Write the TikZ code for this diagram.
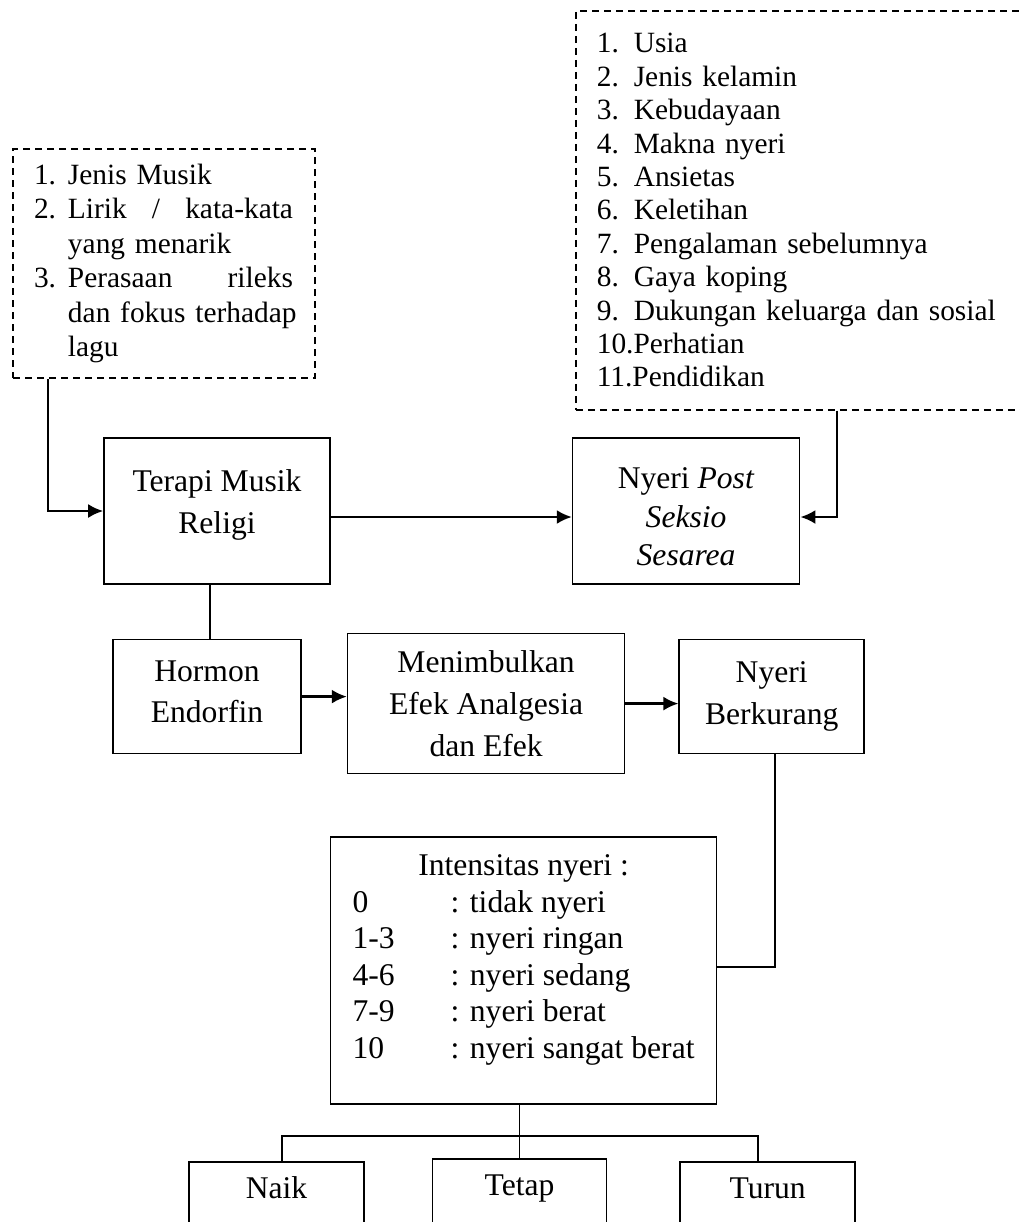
\documentclass[tikz,border=0pt]{standalone}
\usepackage{fontspec}
\setmainfont{Liberation Serif}
\usepackage{tikz}
\usetikzlibrary{arrows.meta, positioning}

\newcommand{\numitem}[2]{\makebox[17pt][l]{#1}\mbox{#2}}
\newcommand{\contitem}[1]{\hspace*{17pt}\mbox{#1}}
\newcommand{\spreadline}[2]{\hbox to 112.5pt{#1\hfill#2}}
\newcommand{\faktoritem}[2]{\makebox[18.5pt][l]{#1}\mbox{#2}}

\begin{document}
\begin{tikzpicture}[x=0.5pt, y=-0.5pt]
        \tikzstyle{box} = [rectangle, draw=black, line width=0.8pt, align=center, inner sep=2pt, font=\fontsize{15.8}{20.8}\selectfont]
        \tikzstyle{listbox} = [rectangle, draw=black, line width=0.8pt, dash pattern=on 3.5pt off 2.5pt, align=left, font=\fontsize{14.7}{17.2}\selectfont]
        \tikzstyle{arrow} = [line width=1.2pt, -{Latex[length=7.5pt,width=7pt]}]
        \tikzstyle{link} = [line width=0.8pt]

        \useasboundingbox (0,0) rectangle (1019,1222);

        % Factor lists
        \node (musik) [listbox, text width=130pt, inner xsep=10.5pt, minimum height=114.5pt] at (164,263.5) {
            \numitem{1.}{Jenis Musik}\\
            \numitem{2.}{\hbox to 112.5pt{Lirik\hfill/\hfill kata-kata}}\\
            \contitem{yang menarik}\\
            \numitem{3.}{\spreadline{Perasaan}{rileks}}\\
            \contitem{dan fokus terhadap}\\
            \contitem{lagu}};
        \node (faktor) [listbox, anchor=north west, text width=209pt, inner xsep=10.5pt, minimum height=199.5pt, font=\fontsize{14.7}{16.7}\selectfont] at (575,10) {
            \faktoritem{1.}{Usia}\\
            \faktoritem{2.}{Jenis kelamin}\\
            \faktoritem{3.}{Kebudayaan}\\
            \faktoritem{4.}{Makna nyeri}\\
            \faktoritem{5.}{Ansietas}\\
            \faktoritem{6.}{Keletihan}\\
            \faktoritem{7.}{Pengalaman sebelumnya}\\
            \faktoritem{8.}{Gaya koping}\\
            \faktoritem{9.}{Dukungan keluarga dan sosial}\\
            10.Perhatian\\
            11.Pendidikan};

        % Therapy and pain
        \node (terapi) [box, minimum width=113pt, minimum height=73pt, text depth=9.5pt] at (217,511) {Terapi Musik\\Religi};
        \node (nyeripost) [box, minimum width=113.5pt, minimum height=73pt, font=\fontsize{15.8}{19.2}\selectfont, right=120.5pt of terapi] {\rule{0pt}{16.5pt}Nyeri \textit{Post}\\\textit{Seksio}\\\textit{Sesarea}};

        % Mechanism
        \node (hormon) [box, minimum width=94pt, minimum height=57pt, text depth=5pt, below=27pt of terapi, xshift=-5pt] {Hormon\\Endorfin};
        \node (menimbulkan) [box, minimum width=138.5pt, minimum height=70pt, right=22.5pt of hormon, yshift=-3.5pt] {Menimbulkan\\Efek Analgesia\\dan Efek};
        \node (berkurang) [box, minimum width=92.5pt, minimum height=57pt, right=26.5pt of menimbulkan, yshift=3.5pt] {Nyeri\\Berkurang};

        % Intensity scale
        \node (intensitas) [box, minimum width=193pt, minimum height=133.5pt, font=\fontsize{15.8}{18.3}\selectfont, below=31pt of menimbulkan, xshift=18.75pt] {%
            \begin{tabular}{@{}p{49pt}@{}l@{}}
                \multicolumn{2}{c}{Intensitas nyeri :}\\
                0 & : tidak nyeri\\
                1-3 & : nyeri ringan\\
                4-6 & : nyeri sedang\\
                7-9 & : nyeri berat\\
                10 & : nyeri sangat berat\\[11pt]
            \end{tabular}};

        % Outcome
        \node (tetap) [box, minimum width=87pt, minimum height=37pt, text depth=11pt, below=26.5pt of intensitas, xshift=-2pt] {Tetap};
        \node (naik) [box, minimum width=87.5pt, minimum height=37pt, text depth=11pt, left=33.5pt of tetap, yshift=-1.5pt] {Naik};
        \node (turun) [box, minimum width=87.5pt, minimum height=37pt, text depth=11pt, right=36pt of tetap, yshift=-1.5pt] {Turun};

        % Arrows
        \draw [arrow] ([xshift=18pt]musik.south west) |- (terapi.west);
        \draw [arrow] ([yshift=-3pt]terapi.east) -- ([yshift=-3pt]nyeripost.west);
        \draw [arrow] ([xshift=131pt]faktor.south west) |- ([yshift=-3pt]nyeripost.east);
        \draw [link] ([xshift=1.5pt]hormon.north) -- ([xshift=1.5pt]hormon.north |- terapi.south);
        \draw [arrow] (hormon.east) -- (hormon.east -| menimbulkan.west);
        \draw [arrow] (menimbulkan.east) -- (menimbulkan.east -| berkurang.west);
        \draw [link] ([xshift=1.5pt]berkurang.south) |- ([yshift=2pt]intensitas.east);
        \draw [link] (tetap.north) -- (tetap.north |- intensitas.south);
        \draw [link] ([xshift=2.75pt]naik.north) -- ++(0,-25) -| ([xshift=-4.75pt]turun.north);
    \end{tikzpicture}
\end{document}
